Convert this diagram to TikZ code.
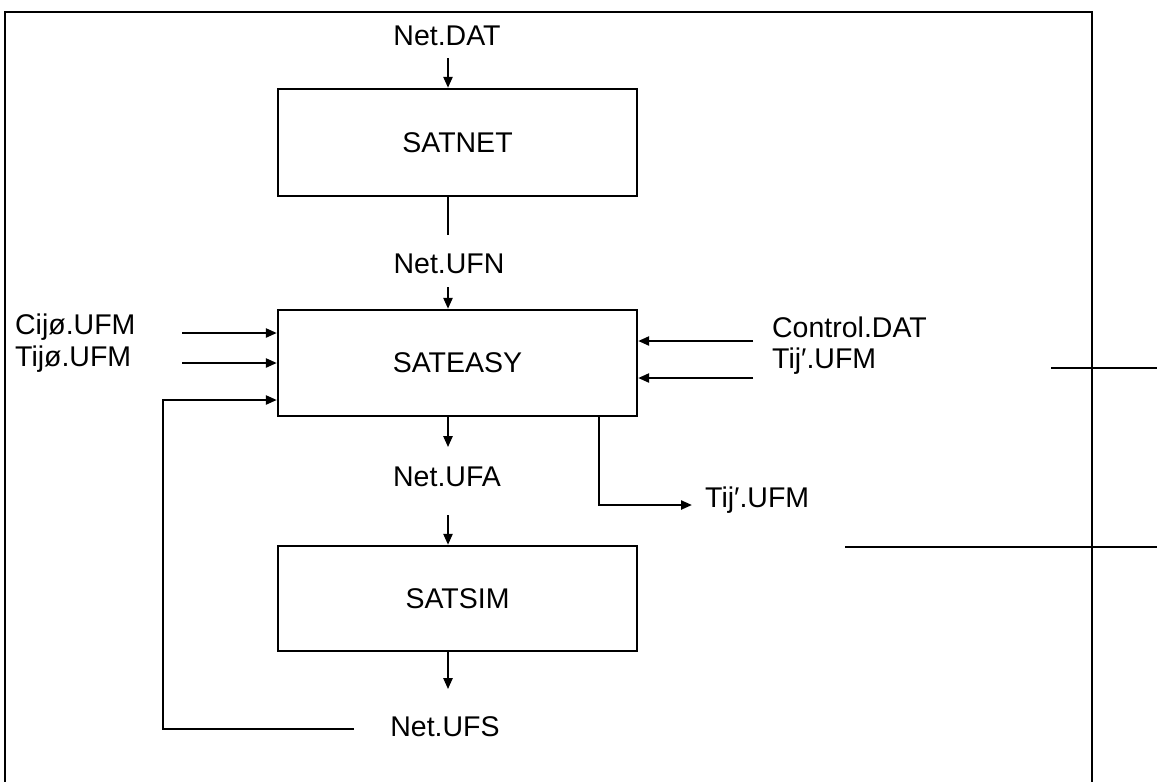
\documentclass[tikz,border=0pt]{standalone}
\usepackage{fontspec}
\setmainfont{Liberation Sans}
\usetikzlibrary{arrows.meta}
\begin{document}
\begin{tikzpicture}[x=1pt,y=-1pt,line width=2.3pt,
  arr/.style={-{Triangle[length=11pt,width=9pt]}},
  box/.style={draw,minimum width=359pt,inner sep=0pt,font=\fontsize{28.5}{32}\selectfont},
  lbl/.style={inner sep=0pt,font=\fontsize{28.5}{32}\selectfont}]
\useasboundingbox (0,0) rectangle (1157,782);
% outer frame (open at the bottom)
\draw[line width=2pt] (5,782) -- (5,12) -- (1092,12) -- (1092,782);
% boxes
\node[box,minimum height=107pt] (satnet) at (457.5,142.5) {SATNET};
\node[box,minimum height=106pt] (sateasy) at (457.5,363) {SATEASY};
\node[box,minimum height=105pt] (satsim) at (457.5,598.5) {SATSIM};
% labels
\node[lbl,anchor=base] (netdat) at (447,45) {Net.DAT};
\node[lbl,anchor=base] (netufn) at (449,273) {Net.UFN};
\node[lbl,anchor=base] (netufa) at (447,486) {Net.UFA};
\node[lbl,anchor=base] (netufs) at (445,736) {Net.UFS};
\node[lbl,anchor=base west] (cij) at (14,334) {Cijø.UFM};
\node[lbl,anchor=base west] (tijo) at (14,366) {Tijø.UFM};
\node[lbl,anchor=base west] (control) at (771,337) {Control.DAT};
\node[lbl,anchor=base west] (tijp) at (771,368) {Tij′.UFM};
\node[lbl,anchor=base west] (tijout) at (704,507) {Tij′.UFM};
% connectors
\coordinate (c1) at (448,58);
\draw[arr] (c1) -- (c1 |- satnet.north);
\draw (satnet.south -| c1) -- ++(0,38);
\coordinate (c2) at (448,287);
\draw[arr] (c2) -- (c2 |- sateasy.north);
\coordinate (l1) at (182,333);
\coordinate (l2) at (182,363);
\draw[arr] (l1) -- (l1 -| sateasy.west);
\draw[arr] (l2) -- (l2 -| sateasy.west);
\coordinate (f1) at (354,729);
\coordinate (f2) at (163,400);
\draw[arr] (f1) -| (f2) -- (f2 -| sateasy.west);
\coordinate (r1) at (753,341);
\coordinate (r2) at (753,378);
\draw[arr] (r1) -- (r1 -| sateasy.east);
\draw[arr] (r2) -- (r2 -| sateasy.east);
\draw[arr] (sateasy.south -| c1) -- ++(0,30);
\coordinate (b1) at (599,0);
\coordinate (b2) at (692,505);
\draw[arr] (sateasy.south -| b1) |- (b2);
\coordinate (c3) at (448,515);
\draw[arr] (c3) -- (c3 |- satsim.north);
\draw[arr] (satsim.south -| c1) -- ++(0,37);
% stray lines at the right
\coordinate (s1) at (1051,368);
\coordinate (s2) at (845,547);
\draw (s1) -- (1157,368);
\draw (s2) -- (1157,547);
\end{tikzpicture}
\end{document}
